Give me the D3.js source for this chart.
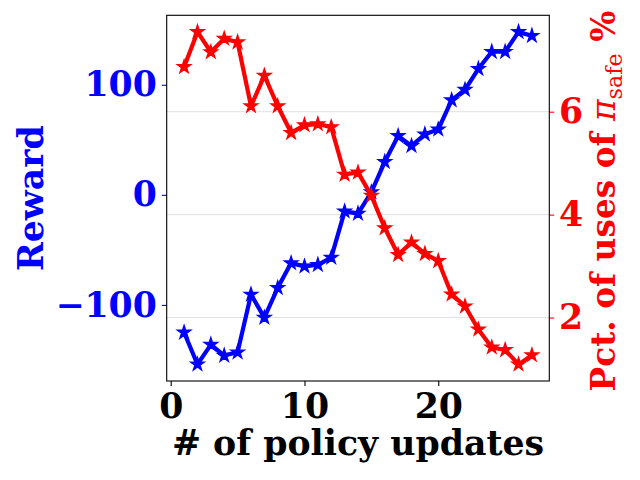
<!DOCTYPE html>
<html><head><meta charset="utf-8">
<script src="https://cdn.jsdelivr.net/npm/d3@7"></script>
<style>body{margin:0;background:#fff}svg{display:block}</style>
</head><body>
<svg id="c" width="640" height="480"></svg>
<script>
const updates = d3.range(1, 28);
const reward = [-125, -154, -136, -146, -143, -90.5, -111.5, -84.5, -62, -65, -63.5, -57, -15, -17, 2.5, 30, 53.5, 44.5, 55, 59.5, 86, 95.5, 114.5, 130, 130, 148, 144.5];
const pctSafe = [6.87, 7.55, 7.16, 7.42, 7.35, 6.11, 6.70, 6.11, 5.59, 5.74, 5.76, 5.70, 4.78, 4.82, 4.37, 3.74, 3.22, 3.46, 3.24, 3.10, 2.45, 2.22, 1.77, 1.42, 1.37, 1.09, 1.27];
const xTicks = [0, 10, 20];
const leftTicks = [-100, 0, 100];
const rightTicks = [2, 4, 6];

const L = 166.7, R = 549.3, T = 15.3, B = 381;
const FONT = "DejaVu Serif";
const FS = 34.7;

function pad(ext){ const r = ext[1]-ext[0]; return [ext[0]-0.05*r, ext[1]+0.05*r]; }
const x = d3.scaleLinear().domain(pad(d3.extent(updates))).range([L, R]);
const yL = d3.scaleLinear().domain(pad(d3.extent(reward))).range([B, T]);
const yR = d3.scaleLinear().domain(pad(d3.extent(pctSafe))).range([B, T]);

const svg = d3.select("#c");

// grid (right axis)
svg.append("g").selectAll("line").data(rightTicks).join("line")
  .attr("x1", L).attr("x2", R).attr("y1", d => yR(d)).attr("y2", d => yR(d))
  .attr("stroke", "#e0e0e0").attr("stroke-width", 1);

function styleAxis(g, color){
  g.select(".domain").remove();
  g.selectAll(".tick line").attr("stroke", color).attr("stroke-width", 1.1);
  g.selectAll(".tick text").attr("fill", color).attr("font-family", FONT)
    .attr("font-weight", "bold").attr("font-size", FS);
}

const gx = svg.append("g").attr("transform", `translate(0,${B})`)
  .call(d3.axisBottom(x).tickValues(xTicks).tickSize(4.9).tickPadding(4.9).tickFormat(d3.format("d")));
styleAxis(gx, "#000");
gx.selectAll(".tick text").attr("dy", "0.78em");

const gl = svg.append("g").attr("transform", `translate(${L},0)`)
  .call(d3.axisLeft(yL).tickValues(leftTicks).tickSize(4.9).tickPadding(4.9));
styleAxis(gl, "#0000ff");

const gr = svg.append("g").attr("transform", `translate(${R},0)`)
  .call(d3.axisRight(yR).tickValues(rightTicks).tickSize(4.9).tickPadding(4.9).tickFormat(d3.format("d")));
styleAxis(gr, "#ff0000");

const star = d3.symbol().type(d3.symbolStar).size(54);

function series(vals, y, color){
  const pts = updates.map((u,i) => [x(u), y(vals[i])]);
  svg.append("path").attr("d", d3.line()(pts)).attr("fill", "none")
    .attr("stroke", color).attr("stroke-width", 4.2).attr("stroke-linejoin", "round").attr("stroke-linecap", "square");
  svg.append("g").selectAll("path").data(pts).join("path")
    .attr("d", star).attr("transform", d => `translate(${d[0]},${d[1]})`)
    .attr("fill", color).attr("stroke", color).attr("stroke-width", 1.4);
}
series(reward, yL, "#0000ff");
series(pctSafe, yR, "#ff0000");

// frame
svg.append("rect").attr("x", L).attr("y", T).attr("width", R-L).attr("height", B-T)
  .attr("fill", "none").attr("stroke", "#000").attr("stroke-width", 1.1);

// labels
svg.append("text").attr("x", (L+R)/2).attr("y", 455).attr("text-anchor", "middle")
  .attr("font-family", FONT).attr("font-weight", "bold").attr("font-size", FS)
  .attr("fill", "#000").text("# of policy updates");

svg.append("text").attr("transform", `translate(43,${(T+B)/2}) rotate(-90)`).attr("text-anchor", "middle")
  .attr("font-family", FONT).attr("font-weight", "bold").attr("font-size", FS)
  .attr("fill", "#0000ff").text("Reward");

const RFS = 32.8;
const rl = svg.append("text").attr("transform", `translate(615,201) rotate(-90)`).attr("text-anchor", "middle")
  .attr("font-family", FONT).attr("font-size", RFS).attr("fill", "#ff0000");
rl.append("tspan").attr("font-weight", "bold").text("Pct. of uses of ");
rl.append("tspan").attr("font-style", "italic").text("π");
rl.append("tspan").attr("font-size", RFS*0.68).attr("dy", 7).text("safe");
rl.append("tspan").attr("font-weight", "bold").attr("dy", -7).text(" %");
</script>
</body></html>
